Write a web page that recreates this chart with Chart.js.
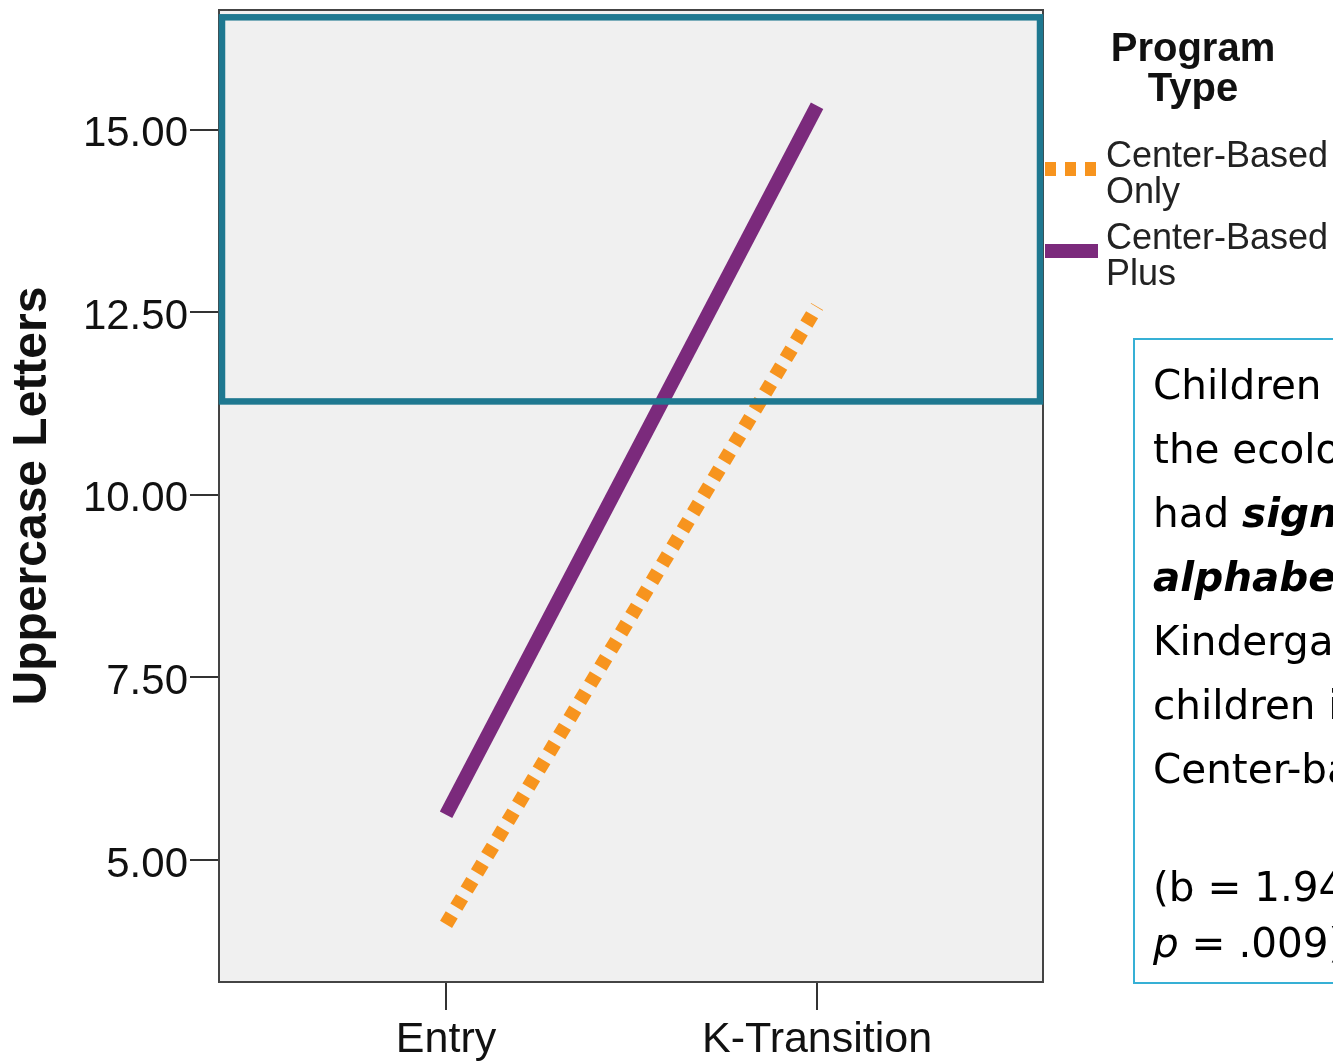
<!DOCTYPE html>
<html>
<head>
<meta charset="utf-8">
<script src="https://cdn.jsdelivr.net/npm/chart.js@4.4.1/dist/chart.umd.min.js"></script>
<style>
  html, body { margin: 0; padding: 0; background: #fff; overflow: hidden; }
  #wrap { position: relative; width: 1333px; height: 1061px; overflow: hidden; }
  #chart { position: absolute; left: 0; top: 0; }
  #note {
    position: absolute; left: 1133px; top: 338px; width: 420px; height: 646px;
    box-sizing: border-box; border: 2px solid #36B0D5; padding: 13px 0 0 18px;
    font-family: "DejaVu Sans", sans-serif; font-size: 40.5px; color: #000; white-space: nowrap;
  }
  #note .p1 { line-height: 64px; }
  #note .p2 { line-height: 56px; margin-top: 58px; }
  #note b { font-style: italic; }
</style>
</head>
<body>
<div id="wrap">
  <canvas id="chart" width="1333" height="1061"></canvas>
  <div id="note">
    <div class="p1">Children who received<br>the ecological model<br>had <b>significantly higher</b><br><b>alphabet knowledge</b> at<br>Kindergarten than<br>children in<br>Center-based only</div>
    <div class="p2">(b = 1.94, SE = .74,<br><i>p</i> = .009)</div>
  </div>
</div>
<script>
// data
const categories = ['Entry', 'K-Transition'];
const centerBasedOnly = [4.12, 12.58];
const centerBasedPlus = [5.62, 15.33];
const yTicks = [5, 7.5, 10, 12.5, 15];
const yMin = 3.33, yMax = 16.64;
const xMin = 0.388, xMax = 2.609;
// teal highlight band (value range on the y axis)
const highlightLow = 11.28, highlightHigh = 16.54;

const ORANGE = '#F7941E';
const PURPLE = '#7B2A7C';
const TEAL = '#1E7890';

const toPoints = arr => arr.map((v, i) => ({ x: i + 1, y: v }));

// grey plot background, frame and highlight band
const plotDecor = {
  id: 'plotDecor',
  beforeDatasetsDraw(chart) {
    const { ctx, chartArea: a } = chart;
    ctx.save();
    ctx.fillStyle = '#F0F0F0';
    ctx.fillRect(a.left, a.top, a.right - a.left, a.bottom - a.top);
    ctx.restore();
  },
  afterDatasetsDraw(chart) {
    const { ctx, chartArea: a, scales } = chart;
    ctx.save();
    ctx.strokeStyle = '#444';
    ctx.lineWidth = 2;
    ctx.strokeRect(a.left, a.top, a.right - a.left, a.bottom - a.top);
    const yTop = scales.y.getPixelForValue(highlightHigh);
    const yBot = scales.y.getPixelForValue(highlightLow);
    ctx.strokeStyle = TEAL;
    ctx.lineWidth = 6.5;
    ctx.strokeRect(a.left + 3, yTop, a.right - a.left - 6, yBot - yTop);
    ctx.restore();
  }
};

// SPSS-style legend on the right
const sideLegend = {
  id: 'sideLegend',
  afterDraw(chart) {
    const { ctx, chartArea: a } = chart;
    ctx.save();
    ctx.fillStyle = '#111';
    ctx.textAlign = 'center';
    ctx.textBaseline = 'middle';
    ctx.font = 'bold 40px "Liberation Sans", Arial';
    ctx.fillText('Program', 1193, 50);
    ctx.fillText('Type', 1193, 90);
    const rows = [169, 251];
    chart.data.datasets.forEach((ds, i) => {
      const y = rows[i];
      ctx.strokeStyle = ds.borderColor;
      ctx.lineWidth = ds.borderWidth;
      ctx.setLineDash(ds.borderDash || []);
      ctx.beginPath();
      ctx.moveTo(a.right + 2, y);
      ctx.lineTo(1098, y);
      ctx.stroke();
      ctx.setLineDash([]);
      const words = ds.label.split(' ');
      ctx.textAlign = 'left';
      ctx.font = '36px "Liberation Sans", Arial';
      ctx.fillStyle = '#222';
      ctx.fillText(words[0], 1106, y - 12);
      ctx.fillText(words.slice(1).join(' '), 1106, y + 24);
    });
    ctx.restore();
  }
};

new Chart(document.getElementById('chart').getContext('2d'), {
  type: 'line',
  data: {
    datasets: [
      {
        label: 'Center-Based Only',
        data: toPoints(centerBasedOnly),
        borderColor: ORANGE,
        borderWidth: 14,
        borderDash: [11, 9],
        pointRadius: 0,
        tension: 0
      },
      {
        label: 'Center-Based Plus',
        data: toPoints(centerBasedPlus),
        borderColor: PURPLE,
        borderWidth: 14,
        pointRadius: 0,
        tension: 0
      }
    ]
  },
  options: {
    responsive: false,
    animation: false,
    devicePixelRatio: 1,
    layout: { padding: { left: 0, right: 290, top: 10, bottom: 0 } },
    plugins: { legend: { display: false }, tooltip: { enabled: false } },
    scales: {
      x: {
        type: 'linear',
        min: xMin,
        max: xMax,
        afterBuildTicks: s => { s.ticks = categories.map((c, i) => ({ value: i + 1 })); },
        afterFit: s => { s.height = 79; s.paddingLeft = 0; s.paddingRight = 0; },
        grid: { drawOnChartArea: false, drawTicks: true, tickLength: 28, color: '#333', lineWidth: 2 },
        border: { display: false },
        ticks: {
          color: '#111',
          padding: 4,
          maxRotation: 0,
          autoSkip: false,
          font: { family: '"Liberation Sans", Arial', size: 43 },
          callback: v => categories[Math.round(v) - 1]
        }
      },
      y: {
        type: 'linear',
        min: yMin,
        max: yMax,
        afterBuildTicks: s => { s.ticks = yTicks.map(v => ({ value: v })); },
        afterFit: s => { s.width = 219; s.paddingTop = 0; s.paddingBottom = 0; },
        grid: { drawOnChartArea: false, drawTicks: true, tickLength: 29, color: '#333', lineWidth: 2 },
        border: { display: false },
        ticks: {
          color: '#111',
          padding: 2,
          labelOffset: 5,
          font: { family: '"Liberation Sans", Arial', size: 42 },
          callback: v => Number(v).toFixed(2)
        },
        title: {
          display: true,
          text: 'Uppercase Letters',
          color: '#111',
          padding: { top: 4, bottom: 0 },
          font: { family: '"Liberation Sans", Arial', size: 48, weight: 'bold' }
        }
      }
    }
  },
  plugins: [plotDecor, sideLegend]
});
</script>
</body>
</html>
